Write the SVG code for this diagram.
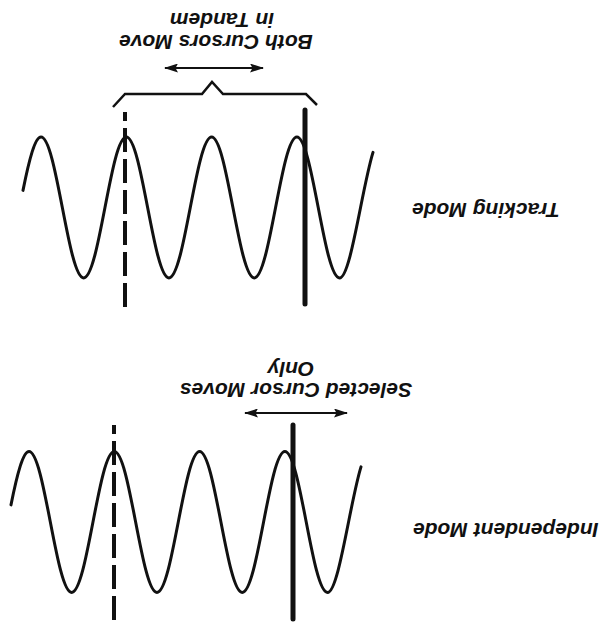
<svg xmlns="http://www.w3.org/2000/svg" xmlns:xlink="http://www.w3.org/1999/xlink" width="610" height="624" viewBox="0 0 610 624">
<style>
.wave{fill:none;stroke:#111;stroke-width:3;stroke-linecap:round}
.solid{stroke:#111;stroke-width:5;stroke-linecap:round}
.dash{stroke:#111;stroke-width:4;stroke-dasharray:24 7}
.brace{fill:none;stroke:#111;stroke-width:2.5;stroke-linejoin:miter}
.arr{stroke:#111;stroke-width:2;marker-start:url(#ah);marker-end:url(#ah)}
.lbl{font-family:"Liberation Sans",Arial,sans-serif;font-weight:bold;font-style:italic;font-size:21px;fill:#111}
</style>
<defs>
<marker id="ah" viewBox="0 0 14 9" refX="13" refY="4.5" markerWidth="14" markerHeight="9" markerUnits="userSpaceOnUse" orient="auto-start-reverse">
<path d="M0,0 L14,4.5 L0,9 L2.5,4.5 Z" fill="#111"/>
</marker>
<path id="wavePath" d="M23,190.4 C29,160.2 35,137 41,137 C56.5,137 68.15,278 83.65,278 C99.15,278 110.8,137 126.3,137 C141.8,137 153.45,278 168.95,278 C184.45,278 196.1,137 211.6,137 C227.1,137 238.75,278 254.25,278 C269.75,278 281.4,137 296.9,137 C312.4,137 324.05,278 339.55,278 C350.7,278 361.85,188.5 373,152.4"/>
</defs>
<g id="tracking-panel">
<use id="tracking-wave" xlink:href="#wavePath" href="#wavePath" class="wave"/>
<line id="tracking-cursor-dashed" class="dash" x1="125" y1="307" x2="125" y2="112"/>
<line id="tracking-cursor-solid" class="solid" x1="305" y1="110" x2="305" y2="304"/>
<polyline id="tracking-brace" class="brace" points="113,107 125,94 202,94 212,82 223,94 306,94 317,105"/>
<text class="lbl" text-anchor="middle" transform="translate(216,35) rotate(180)">Both Cursors Move</text>
<text class="lbl" text-anchor="middle" transform="translate(222,13) rotate(180)">in Tandem</text>
<text class="lbl" text-anchor="end" transform="translate(412,203) rotate(180)">Tracking Mode</text>
</g>
<g id="independent-panel">
<use id="independent-wave" xlink:href="#wavePath" href="#wavePath" class="wave" transform="translate(-12,314.5)"/>
<line id="independent-cursor-dashed" class="dash" x1="114" y1="620" x2="114" y2="425"/>
<line id="independent-cursor-solid" class="solid" x1="293" y1="425" x2="293" y2="619"/>
<text class="lbl" text-anchor="middle" transform="translate(296,383) rotate(180)">Selected Cursor Moves</text>
<text class="lbl" text-anchor="middle" transform="translate(291,362) rotate(180)">Only</text>
<text class="lbl" text-anchor="end" transform="translate(413,523) rotate(180)">Independent Mode</text>
</g>
<g id="connectors">
<line class="arr" x1="165" y1="68" x2="263" y2="68"/>
<line class="arr" x1="245" y1="413" x2="347" y2="413"/>
</g>
</svg>
